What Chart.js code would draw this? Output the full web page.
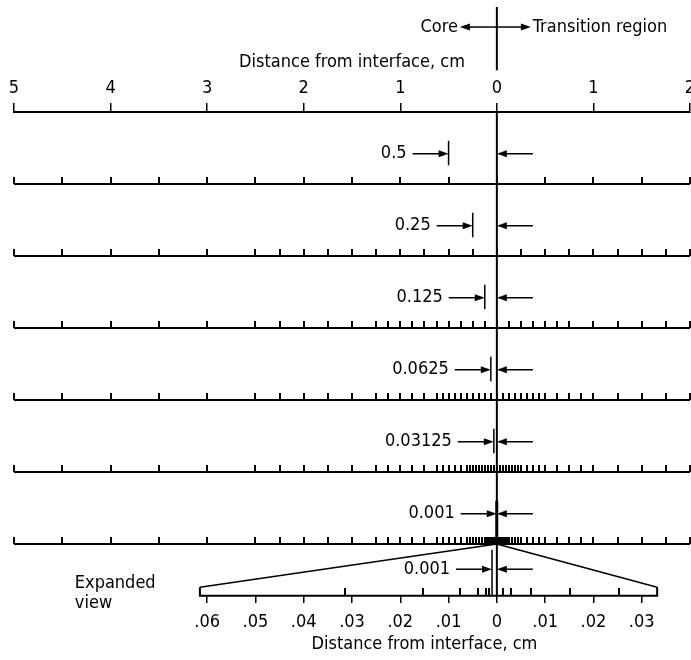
<!DOCTYPE html>
<html>
<head>
<meta charset="utf-8">
<script src="https://cdn.jsdelivr.net/npm/chart.js@4.4.1/dist/chart.umd.min.js"></script>
<style>
  html, body { margin: 0; padding: 0; background: #fff; }
</style>
</head>
<body>
<canvas id="chart" width="691" height="660"></canvas>
<script>
// distance from interface, cm (negative = core side)
const topTicks = [-5, -4, -3, -2, -1, 0, 1, 2]

// one ruler per interval size
const rowLabels = ['0.5', '0.25', '0.125', '0.0625', '0.03125', '0.001']
const rowIntervals = [0.5, 0.25, 0.125, 0.0625, 0.03125, 0.001]

// tick spacing along each ruler: [from, to, step]
const rowZones = [
  [[-5, 2, 0.5]],
  [[-5, -2.5, 0.5], [-2.5, 2, 0.25]],
  [[-5, -2.5, 0.5], [-2.5, -1.25, 0.25], [-1.25, 0.75, 0.125], [0.75, 2, 0.25]],
  [[-5, -2.5, 0.5], [-2.5, -1.25, 0.25], [-1.25, -0.625, 0.125], [-0.625, 0.5, 0.0625],
   [0.5, 1, 0.125], [1, 2, 0.25]],
  [[-5, -2.5, 0.5], [-2.5, -1.25, 0.25], [-1.25, -0.625, 0.125], [-0.625, -0.3125, 0.0625],
   [-0.3125, 0.25, 0.03125], [0.25, 0.5, 0.0625], [0.5, 1, 0.125], [1, 2, 0.25]],
  [[-5, -2.5, 0.5], [-2.5, -1.25, 0.25], [-1.25, -0.625, 0.125], [-0.625, -0.3125, 0.0625],
   [-0.3125, -0.125, 0.03125], [-0.125, -0.0625, 0.015625], [-0.0625, -0.03125, 0.0078125],
   [-0.03125, 0.03125, 0.001], [0.03125, 0.0625, 0.0078125], [0.0625, 0.125, 0.015625],
   [0.125, 0.25, 0.03125], [0.25, 0.5, 0.0625], [0.5, 1, 0.125], [1, 2, 0.25]]
]

// expanded view of the last ruler (x50)
const expandedTicks = [-0.06, -0.05, -0.04, -0.03, -0.02, -0.01, 0, 0.01, 0.02, 0.03]
const expandedFineTicks = [-0.0314, -0.0153, -0.0076, -0.004, -0.0023, -0.0017, 0.0012, 0.0029, 0.007, 0.0151, 0.0253]
const expandedEnds = [-0.0615, 0.0332]
const expandedInterval = 0.001
const expandedLabel = '0.001'

// vertical placement, in ruler rows (row 0 = top scale)
const LAYOUT = {
  header: -1.18, zeroTop: -1.46, zeroGap: -0.58,
  label: -0.42, markTop: -0.6, markBottom: -0.26,
  expMarkTop: 6.08, expLabel: 6.35, expCap: 6.6, expLine: 6.72,
  note1: 6.54, note2: 6.83, noteX: -4.37, expTitle: 7.4
}

const FONT_FAMILY = '"DejaVu Sans Condensed", "DejaVu Sans", sans-serif'
Chart.defaults.font.family = FONT_FAMILY
Chart.defaults.font.size = 18
Chart.defaults.color = '#000'

function tickMark(h) {
  const c = document.createElement('canvas')
  c.width = 2
  c.height = h * 2
  const g = c.getContext('2d')
  g.fillStyle = '#000'
  g.fillRect(0, 0, 2, h)
  return c
}

function zoneTicks(zones) {
  const out = new Set()
  zones.forEach(([from, to, step]) => {
    const n = Math.round((to - from) / step)
    for (let k = 0; k <= n; k++) out.add(+(from + k * step).toFixed(7))
  })
  return [...out].sort((a, b) => a - b)
}

const lineStyle = { showLine: true, borderColor: '#000', pointRadius: 0, tension: 0, fill: false, clip: false }
const rowTick = tickMark(7)
const fineTick = tickMark(8)
const xMin = topTicks[0], xMax = topTicks[topTicks.length - 1]
const lastRow = rowIntervals.length

const datasets = []

rowZones.forEach((zones, i) => {
  const row = i + 1
  datasets.push({ ...lineStyle, borderWidth: 2, data: [{ x: xMin, y: row }, { x: xMax, y: row }] })
  datasets.push({
    data: zoneTicks(zones).map(v => ({ x: v, y: row })),
    pointStyle: rowTick, pointRadius: 4, clip: false
  })
})

// interface line
datasets.push({ ...lineStyle, borderWidth: 2, data: [{ x: 0, y: LAYOUT.zeroTop }, { x: 0, y: LAYOUT.zeroGap }] })
datasets.push({ ...lineStyle, borderWidth: 2, data: [{ x: 0, y: 0 }, { x: 0, y: LAYOUT.expLine }] })

// expanded view frame and fan lines
datasets.push({
  ...lineStyle, xAxisID: 'x2', borderWidth: 2,
  data: [
    { x: expandedEnds[0], y: LAYOUT.expCap }, { x: expandedEnds[0], y: LAYOUT.expLine },
    { x: expandedEnds[1], y: LAYOUT.expLine }, { x: expandedEnds[1], y: LAYOUT.expCap }
  ]
})
datasets.push({ ...lineStyle, xAxisID: 'x2', borderWidth: 1.5,
  data: [{ x: expandedEnds[0], y: LAYOUT.expCap }, { x: 0, y: lastRow }] })
datasets.push({ ...lineStyle, xAxisID: 'x2', borderWidth: 1.5,
  data: [{ x: 0, y: lastRow }, { x: expandedEnds[1], y: LAYOUT.expCap }] })
datasets.push({
  xAxisID: 'x2', pointStyle: fineTick, pointRadius: 4, clip: false,
  data: expandedFineTicks.map(v => ({ x: v, y: LAYOUT.expLine }))
})

function drawArrow(ctx, fromX, toX, y) {
  const dir = Math.sign(toX - fromX)
  ctx.beginPath()
  ctx.moveTo(fromX, y)
  ctx.lineTo(toX - dir * 6, y)
  ctx.stroke()
  ctx.beginPath()
  ctx.moveTo(toX, y)
  ctx.lineTo(toX - dir * 10, y - 3.5)
  ctx.lineTo(toX - dir * 10, y + 3.5)
  ctx.closePath()
  ctx.fill()
}

function drawLine(ctx, x1, y1, x2, y2, w) {
  ctx.save()
  ctx.lineWidth = w
  ctx.beginPath()
  ctx.moveTo(x1, y1)
  ctx.lineTo(x2, y2)
  ctx.stroke()
  ctx.restore()
}

const annotations = {
  id: 'annotations',
  afterDraw(chart) {
    const { ctx } = chart
    const { x, x2, y } = chart.scales
    const x0 = x.getPixelForValue(0)
    ctx.save()
    ctx.fillStyle = '#000'
    ctx.strokeStyle = '#000'
    ctx.lineWidth = 1.5
    ctx.font = '18px ' + FONT_FAMILY
    ctx.textBaseline = 'middle'

    // Core / Transition region
    const yh = y.getPixelForValue(LAYOUT.header)
    drawArrow(ctx, x0, x0 - 37, yh)
    drawArrow(ctx, x0, x0 + 34, yh)
    ctx.textAlign = 'right'
    ctx.fillText('Core', x0 - 39, yh)
    ctx.textAlign = 'left'
    ctx.fillText('Transition region', x0 + 36, yh)

    // interval marks on each ruler
    rowIntervals.forEach((d, i) => {
      const row = i + 1
      const xm = x.getPixelForValue(-d)
      const yl = y.getPixelForValue(row + LAYOUT.label)
      const yb = row === lastRow ? row : row + LAYOUT.markBottom
      drawLine(ctx, xm, y.getPixelForValue(row + LAYOUT.markTop), xm, y.getPixelForValue(yb), row === lastRow ? 3 : 1.5)
      drawArrow(ctx, xm - 36, xm, yl)
      drawArrow(ctx, x0 + 36, x0, yl)
      ctx.textAlign = 'right'
      ctx.fillText(rowLabels[i], xm - 42, yl)
    })

    // expanded view interval
    const xe = x2.getPixelForValue(-expandedInterval)
    const ye = y.getPixelForValue(LAYOUT.expLabel)
    drawLine(ctx, xe, y.getPixelForValue(LAYOUT.expMarkTop), xe, y.getPixelForValue(LAYOUT.expLine), 1.5)
    drawArrow(ctx, xe - 36, xe, ye)
    drawArrow(ctx, x0 + 36, x0, ye)
    ctx.textAlign = 'right'
    ctx.fillText(expandedLabel, xe - 42, ye)

    ctx.textAlign = 'left'
    const xn = x.getPixelForValue(LAYOUT.noteX)
    ctx.fillText('Expanded', xn, y.getPixelForValue(LAYOUT.note1))
    ctx.fillText('view', xn, y.getPixelForValue(LAYOUT.note2))

    ctx.textAlign = 'center'
    const xt = (x2.getPixelForValue(expandedTicks[0]) + x2.getPixelForValue(expandedTicks[expandedTicks.length - 1])) / 2
    ctx.fillText('Distance from interface, cm', xt, y.getPixelForValue(LAYOUT.expTitle))
    ctx.restore()
  }
}

new Chart(document.getElementById('chart'), {
  type: 'scatter',
  data: { datasets },
  options: {
    responsive: false,
    animation: false,
    events: [],
    devicePixelRatio: 1,
    layout: { autoPadding: false, padding: { top: 51.8, left: 14, right: 1, bottom: 0 } },
    plugins: { legend: { display: false }, tooltip: { enabled: false } },
    scales: {
      x: {
        type: 'linear', position: 'top', min: xMin, max: xMax,
        afterBuildTicks: s => { s.ticks = topTicks.map(v => ({ value: v })) },
        afterFit: s => { s.paddingLeft = 0; s.paddingRight = 0 },
        ticks: { callback: v => String(Math.abs(v)), padding: 4, maxRotation: 0, autoSkip: false },
        grid: { drawOnChartArea: false, tickLength: 9, color: '#000', lineWidth: 1.5 },
        border: { color: '#000', width: 2 },
        title: { display: true, text: 'Distance from interface, cm', padding: { top: 0, bottom: 0 } }
      },
      x2: {
        type: 'linear', position: { y: LAYOUT.expLine }, min: xMin / 50, max: xMax / 50,
        afterBuildTicks: s => { s.ticks = expandedTicks.map(v => ({ value: v })) },
        afterFit: s => { s.paddingLeft = 0; s.paddingRight = 0 },
        ticks: {
          callback: v => v === 0 ? '0' : '.' + String(Math.round(Math.abs(v) * 100)).padStart(2, '0'),
          padding: 9, maxRotation: 0, autoSkip: false
        },
        grid: { drawOnChartArea: false, tickLength: 7, color: '#000', lineWidth: 1.5 },
        border: { display: false }
      },
      y: { type: 'linear', reverse: true, min: 0, max: 7.611, display: false }
    }
  },
  plugins: [annotations]
})
</script>
</body>
</html>
